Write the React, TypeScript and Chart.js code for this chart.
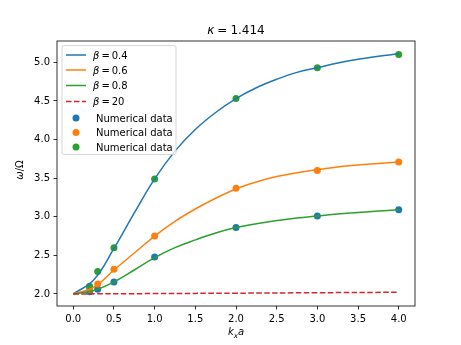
import React, { useEffect, useRef } from 'react';
import { Chart, registerables } from 'chart.js';

Chart.register(...registerables);

// ---- data ----
const curveX = [0, 0.25, 0.5, 0.75, 1.0, 1.25, 1.5, 1.75, 2.0, 2.25, 2.5, 2.75, 3.0, 3.25, 3.5, 3.75, 4.0];
const beta04 = [2.0, 2.18, 2.59, 3.05, 3.49, 3.85, 4.13, 4.35, 4.53, 4.67, 4.78, 4.87, 4.93, 4.99, 5.04, 5.08, 5.11];
const beta06 = [2.0, 2.085, 2.31, 2.53, 2.75, 2.94, 3.1, 3.24, 3.36, 3.45, 3.52, 3.57, 3.61, 3.645, 3.67, 3.69, 3.71];
const beta08 = [2.0, 2.045, 2.155, 2.31, 2.47, 2.6, 2.7, 2.79, 2.86, 2.91, 2.95, 2.985, 3.01, 3.035, 3.055, 3.075, 3.09];
const beta20X = [0, 1, 2, 3, 4];
const beta20 = [2.0, 2.005, 2.01, 2.016, 2.022];

const numX = [0.2, 0.3, 0.5, 1.0, 2.0, 3.0, 4.0];
const numBlue = [2.03, 2.06, 2.155, 2.48, 2.86, 3.01, 3.09];
const numOrange = [2.06, 2.13, 2.32, 2.75, 3.37, 3.6, 3.71];
const numGreen = [2.1, 2.29, 2.6, 3.49, 4.53, 4.93, 5.1];

const xTicks = [0, 0.5, 1.0, 1.5, 2.0, 2.5, 3.0, 3.5, 4.0];
const yTicks = [2.0, 2.5, 3.0, 3.5, 4.0, 4.5, 5.0];

const lineLabels = ['0.4', '0.6', '0.8', '20'];
const scatterLabel = 'Numerical data';
const titleKappa = '1.414';

const C0 = '#1f77b4';
const C1 = '#ff7f0e';
const C2 = '#2ca02c';
const C3 = '#d62728';

const FONT = "'DejaVu Sans'";

type Run = { t: string; font: string; dy?: number; gapAfter?: number };

function runsWidth(ctx: CanvasRenderingContext2D, runs: Run[]) {
  let w = 0;
  for (const r of runs) {
    ctx.font = r.font;
    w += ctx.measureText(r.t).width + (r.gapAfter || 0);
  }
  return w;
}

function drawRuns(ctx: CanvasRenderingContext2D, runs: Run[], x: number, y: number) {
  let cx = x;
  for (const r of runs) {
    ctx.font = r.font;
    ctx.fillText(r.t, cx, y + (r.dy || 0));
    cx += ctx.measureText(r.t).width + (r.gapAfter || 0);
  }
}

const decorPlugin = {
  id: 'decor',
  afterDatasetsDraw(chart: any) {
    const { ctx, chartArea: a } = chart;
    ctx.save();
    ctx.strokeStyle = '#000';
    ctx.lineWidth = 0.8;
    ctx.strokeRect(a.left, a.top, a.right - a.left, a.bottom - a.top);
    ctx.restore();
  },
  afterDraw(chart: any) {
    const { ctx, chartArea: a } = chart;
    ctx.save();
    ctx.fillStyle = '#000';
    ctx.textBaseline = 'alphabetic';
    const cx = (a.left + a.right) / 2;

    // title
    const tRuns: Run[] = [
      { t: 'κ', font: `italic 12px ${FONT}`, gapAfter: 3 },
      { t: '=', font: `12px ${FONT}`, gapAfter: 3 },
      { t: titleKappa, font: `12px ${FONT}` },
    ];
    drawRuns(ctx, tRuns, cx - runsWidth(ctx, tRuns) / 2, 34);

    // x label
    const xRuns: Run[] = [
      { t: 'k', font: `italic 10px ${FONT}` },
      { t: 'x', font: `italic 7px ${FONT}`, dy: 2.5 },
      { t: 'a', font: `italic 10px ${FONT}` },
    ];
    drawRuns(ctx, xRuns, cx - runsWidth(ctx, xRuns) / 2, 335);

    // y label
    const yRuns: Run[] = [
      { t: 'ω', font: `italic 10px ${FONT}` },
      { t: '/', font: `10px ${FONT}` },
      { t: 'Ω', font: `10px ${FONT}` },
    ];
    ctx.save();
    ctx.translate(23, 170);
    ctx.rotate(-Math.PI / 2);
    drawRuns(ctx, yRuns, -runsWidth(ctx, yRuns) / 2, 0);
    ctx.restore();

    // legend
    const lx = 62, ly = 45.5, lw = 114, lh = 109;
    ctx.beginPath();
    (ctx as any).roundRect(lx, ly, lw, lh, 2);
    ctx.fillStyle = 'rgba(255,255,255,0.8)';
    ctx.fill();
    ctx.strokeStyle = 'rgba(204,204,204,0.8)';
    ctx.lineWidth = 1;
    ctx.stroke();

    const rowsY = [55, 70, 85.5, 101.5, 118, 132.5, 147];
    const lineColors = [C0, C1, C2, C3];
    for (let i = 0; i < 4; i++) {
      const y = rowsY[i];
      ctx.beginPath();
      ctx.strokeStyle = lineColors[i];
      ctx.lineWidth = 1.5;
      if (i === 3) ctx.setLineDash([5.55, 2.4]);
      else ctx.setLineDash([]);
      ctx.moveTo(66, y);
      ctx.lineTo(86, y);
      ctx.stroke();
      ctx.setLineDash([]);
      ctx.fillStyle = '#000';
      const runs: Run[] = [
        { t: 'β', font: `italic 10px ${FONT}`, gapAfter: 2 },
        { t: '=', font: `10px ${FONT}`, gapAfter: 2 },
        { t: lineLabels[i], font: `10px ${FONT}` },
      ];
      drawRuns(ctx, runs, 93, y + 3.5);
    }
    const dotColors = [C0, C1, C2];
    for (let i = 0; i < 3; i++) {
      const y = rowsY[4 + i];
      ctx.beginPath();
      ctx.fillStyle = dotColors[i];
      ctx.arc(76, y, 3.5, 0, Math.PI * 2);
      ctx.fill();
      ctx.fillStyle = '#000';
      ctx.font = `10px ${FONT}`;
      ctx.fillText(scatterLabel, 96, y + 3.5);
    }
    ctx.restore();
  },
};

function pts(xs: number[], ys: number[]) {
  return xs.map((x, i) => ({ x, y: ys[i] }));
}

export default function App() {
  const ref = useRef<HTMLCanvasElement>(null);
  useEffect(() => {
    if (!ref.current) return;
    const lineDs = (label: string, data: any, color: string, order: number, dash?: number[]) => ({
      type: 'line' as const,
      label,
      data,
      borderColor: color,
      backgroundColor: color,
      borderWidth: 1.5,
      borderDash: dash || [],
      pointRadius: 0,
      showLine: true,
      fill: false,
      tension: 0.4,
      order,
    });
    const dotDs = (label: string, data: any, color: string, order: number) => ({
      type: 'scatter' as const,
      label,
      data,
      backgroundColor: color,
      borderColor: color,
      borderWidth: 0,
      pointRadius: 3.5,
      order,
    });
    const chart = new Chart(ref.current, {
      type: 'scatter',
      data: {
        datasets: [
          lineDs('β=0.4', pts(curveX, beta04), C0, 4),
          lineDs('β=0.6', pts(curveX, beta06), C1, 3),
          lineDs('β=0.8', pts(curveX, beta08), C2, 2),
          lineDs('β=20', pts(beta20X, beta20), C3, 1, [5.55, 2.4]),
          dotDs(scatterLabel, pts(numX, numBlue), C0, 7),
          dotDs(scatterLabel, pts(numX, numOrange), C1, 6),
          dotDs(scatterLabel, pts(numX, numGreen), C2, 5),
        ] as any,
      },
      options: {
        animation: false,
        responsive: false,
        devicePixelRatio: 1,
        layout: { padding: { left: 12, right: 46, top: 41, bottom: 19 } },
        plugins: { legend: { display: false }, tooltip: { enabled: false }, title: { display: false } },
        scales: {
          x: {
            type: 'linear',
            min: -0.2,
            max: 4.2,
            afterBuildTicks: (s: any) => {
              s.ticks = xTicks.map((v) => ({ value: v }));
            },
            afterFit: (s: any) => {
              s.height = 20;
            },
            grid: { display: true, drawOnChartArea: false, drawTicks: true, tickLength: 3.5, color: '#000', lineWidth: 0.8 },
            border: { display: false },
            ticks: {
              color: '#000',
              padding: 3.5,
              maxRotation: 0,
              autoSkip: false,
              font: { family: 'DejaVu Sans', size: 10 },
              callback: (v: any) => Number(v).toFixed(1),
            },
          },
          y: {
            type: 'linear',
            min: 1.844,
            max: 5.276,
            afterBuildTicks: (s: any) => {
              s.ticks = yTicks.map((v) => ({ value: v }));
            },
            afterFit: (s: any) => {
              s.width = 45;
            },
            grid: { display: true, drawOnChartArea: false, drawTicks: true, tickLength: 3.5, color: '#000', lineWidth: 0.8 },
            border: { display: false },
            ticks: {
              color: '#000',
              padding: 3.5,
              autoSkip: false,
              font: { family: 'DejaVu Sans', size: 10 },
              callback: (v: any) => Number(v).toFixed(1),
            },
          },
        },
      } as any,
      plugins: [decorPlugin],
    });
    return () => chart.destroy();
  }, []);
  return (
    <div style={{ position: 'fixed', left: 0, top: 0, width: 461, height: 345, background: '#fff' }}>
      <canvas ref={ref} width={461} height={345} style={{ display: 'block' }} />
    </div>
  );
}
